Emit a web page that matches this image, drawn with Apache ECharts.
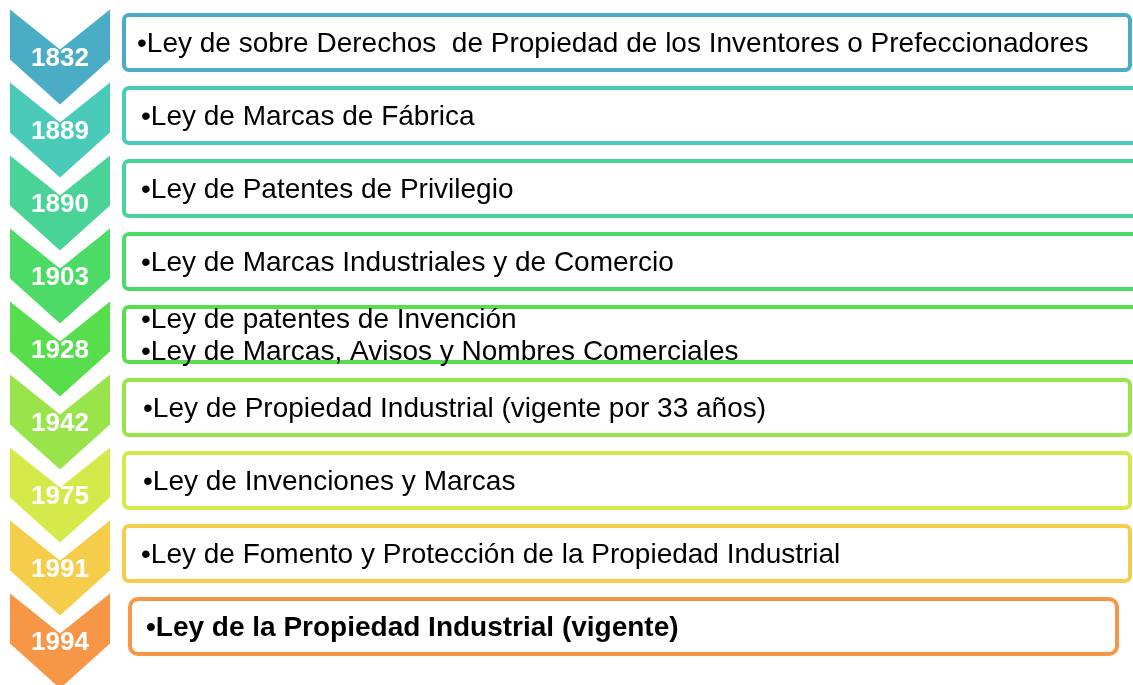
<!DOCTYPE html>
<html>
<head>
<meta charset="utf-8">
<title>Leyes de Propiedad Industrial</title>
<script src="https://cdn.jsdelivr.net/npm/echarts@6/dist/echarts.min.js"></script>
<style>
  html, body { margin: 0; padding: 0; background: #fff; }
  #chart { width: 1133px; height: 685px; }
</style>
</head>
<body>
<div id="chart"></div>
<script>
// datos
var years = ['1832', '1889', '1890', '1903', '1928', '1942', '1975', '1991', '1994'];
var laws = [
    '•Ley de sobre Derechos  de Propiedad de los Inventores o Prefeccionadores',
    '•Ley de Marcas de Fábrica',
    '•Ley de Patentes de Privilegio',
    '•Ley de Marcas Industriales y de Comercio',
    '•Ley de patentes de Invención\n•Ley de Marcas, Avisos y Nombres Comerciales',
    '•Ley de Propiedad Industrial (vigente por 33 años)',
    '•Ley de Invenciones y Marcas',
    '•Ley de Fomento y Protección de la Propiedad Industrial',
    '•Ley de la Propiedad Industrial (vigente)'
];
var colors = ['#4bacc6', '#4acbb9', '#4ad397', '#4bdb66', '#58de4d', '#9ae44b', '#d4ea4a', '#f5cd4b', '#f79646'];
var current = 8; // la vigente va en negrita

// maquetacion (no son datos)
var boxLeft = [122, 122, 122, 122, 122, 122, 122, 122, 128];
var boxRight = [1132, 1145, 1145, 1145, 1145, 1132, 1132, 1132, 1119];
var textLeft = [137, 141, 141, 141, 141, 143, 143, 141, 146];
var FAMILY = 'Liberation Sans';

var chart = echarts.init(document.getElementById('chart'));

function renderItem(params, api) {
    var i = api.value(1);
    var c = api.coord([0, i])[1];
    var x = function (v) { return api.coord([v, i])[0]; };
    var col = colors[i];
    var t = c - 33;
    var l = x(10), r = x(110), m = x(60);
    var chevron = {
        type: 'polygon',
        z2: 1,
        shape: { points: [[l, t], [m, t + 40], [r, t], [r, t + 50], [m, t + 95], [l, t + 50]] },
        style: { fill: col, stroke: null }
    };
    var year = {
        type: 'text',
        z2: 3,
        style: {
            text: years[i], x: m, y: c + 16,
            fill: '#fff', fontFamily: FAMILY, fontSize: 26, fontWeight: 'bold',
            align: 'center', verticalAlign: 'middle'
        }
    };
    var bl = x(boxLeft[i]) + 2, br = x(boxRight[i]) - 2;
    var box = {
        type: 'rect',
        z2: 1,
        shape: { x: bl, y: c - 27.5, width: br - bl, height: 55, r: i === current ? 8 : 5 },
        style: { fill: '#fff', stroke: col, lineWidth: 4 }
    };
    var law = {
        type: 'text',
        z2: 3,
        style: {
            text: laws[i], x: x(textLeft[i]), y: c + 1.5,
            fill: '#000', fontFamily: FAMILY, fontSize: 28,
            fontWeight: i === current ? 'bold' : 'normal',
            lineHeight: 32,
            align: 'left', verticalAlign: 'middle'
        }
    };
    return { type: 'group', children: [chevron, box, year, law] };
}

var option = {
    animation: false,
    grid: { left: 0, right: 0, top: 6, bottom: 22 },
    xAxis: { type: 'value', min: 0, max: 1133, show: false },
    yAxis: { type: 'category', inverse: true, data: years, show: false },
    series: [{
        type: 'custom',
        clip: false,
        renderItem: renderItem,
        data: years.map(function (y, i) { return [0, i]; })
    }]
};
chart.setOption(option);

window.addEventListener('resize', function () {
    chart.resize();
});
</script>
</body>
</html>
